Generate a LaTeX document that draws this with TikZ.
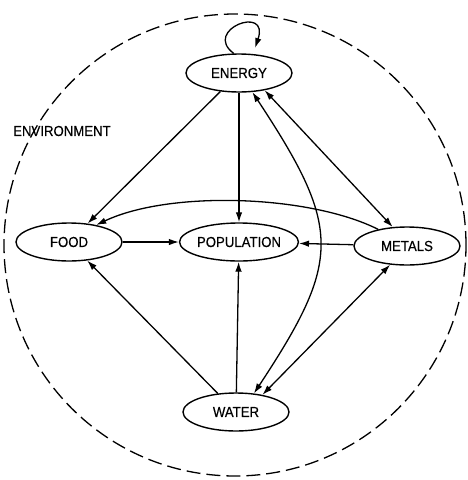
\documentclass[tikz,border=0pt]{standalone}
\usepackage{fontspec}
\setmainfont[FakeStretch=0.91,FakeBold=0.4]{Liberation Sans}
\usetikzlibrary{shapes.geometric,arrows.meta}
\begin{document}
\begin{tikzpicture}[x=1pt,y=-1pt,
  box/.style={ellipse,draw,line width=1.4pt,minimum width=106pt,minimum height=38pt,inner sep=0pt,font=\fontsize{14.5}{16}\selectfont},
  arr/.style={line width=1.3pt,-{Latex[length=10pt,width=6.5pt]}},
  darr/.style={line width=1.3pt,{Latex[length=10pt,width=6.5pt]}-{Latex[length=10pt,width=6.5pt]}},
  lbl/.style={font=\fontsize{14.5}{16}\selectfont,inner sep=0pt},
  envline/.style={dash pattern=on 14pt off 6pt,line width=1.3pt}]
\useasboundingbox (0,0) rectangle (468,480);
\draw[envline] (235,245) circle[radius=231pt];
\node[box] (energy) at (239,73) {ENERGY};
\node[box] (food) at (69,242) {FOOD};
\node[box] (pop) at (239,242) {POPULATION};
\node[box] (metals) at (407,246) {METALS};
\node[box] (water) at (236,412) {WATER};
\node[lbl,anchor=west] (env) at (13,131) {ENVIRONMENT};
\coordinate (lt) at (255,48);
\draw[arr] (energy.105) .. controls (202,30) and (270,4) .. (lt);
\draw[arr] (energy) -- (food);
\draw[arr] (energy) -- (pop);
\draw[arr] (food) -- (pop);
\draw[arr] (metals) -- (pop);
\draw[arr] (water) -- (food);
\draw[arr] (water) -- (pop);
\draw[darr] (energy.-34) -- (metals.127);
\draw[darr] (metals.228) -- (water.33);
\draw[darr] (energy.-55) .. controls (342,228) and (342,260) .. (water.46);
\draw[arr] (metals.150) .. controls (310,195) and (170,190) .. (food.32);
\end{tikzpicture}
\end{document}
